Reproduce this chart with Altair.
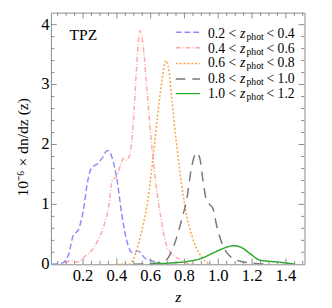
import altair as alt
import pandas as pd

# ---- data ----
series = ["0.2-0.4", "0.4-0.6", "0.6-0.8", "0.8-1.0", "1.0-1.2"]
lo_labels = ["0.2", "0.4", "0.6", "0.8", "1.0"]
hi_labels = ["0.4", "0.6", "0.8", "1.0", "1.2"]

z1 = [0.018, 0.076, 0.114, 0.143, 0.171, 0.2, 0.229, 0.248, 0.286, 0.315, 0.344, 0.372, 0.401, 0.43, 0.459, 0.488, 0.526, 0.564, 0.612, 0.67, 0.708]
y1 = [0, 0.02, 0.16, 0.49, 0.57, 0.87, 1.41, 1.6, 1.68, 1.78, 1.9, 1.78, 1.41, 0.82, 0.39, 0.2, 0.22, 0.11, 0.05, 0.01, 0]

z2 = [0.095, 0.124, 0.17, 0.21, 0.248, 0.286, 0.325, 0.353, 0.372, 0.401, 0.42, 0.44, 0.459, 0.478, 0.497, 0.516, 0.535, 0.555, 0.574, 0.603, 0.632, 0.66, 0.689, 0.727, 0.775, 0.823, 0.86]
y2 = [0.02, 0.06, 0.04, 0.13, 0.22, 0.39, 0.66, 0.98, 1.39, 1.48, 1.64, 1.77, 1.74, 1.85, 2.33, 3.25, 3.9, 3.67, 3.05, 2.08, 1.32, 0.78, 0.36, 0.17, 0.08, 0.01, 0]

z3 = [0.401, 0.468, 0.497, 0.526, 0.555, 0.584, 0.612, 0.641, 0.67, 0.689, 0.708, 0.727, 0.756, 0.785, 0.813, 0.842, 0.88, 0.919, 0.957]
y3 = [0, 0, 0.08, 0.32, 0.65, 1.08, 1.73, 2.48, 3.13, 3.4, 3.24, 2.7, 1.94, 1.3, 0.81, 0.49, 0.22, 0.06, 0]

z4 = [0.5, 0.67, 0.708, 0.746, 0.785, 0.813, 0.842, 0.871, 0.89, 0.909, 0.929, 0.948, 0.967, 0.995, 1.034, 1.072, 1.13, 1.207, 1.283]
y4 = [0, 0.03, 0.13, 0.38, 0.76, 1.08, 1.62, 1.86, 1.78, 1.41, 1.08, 1.0, 0.94, 0.59, 0.27, 0.13, 0.05, 0.02, 0]

z5 = [0.593, 0.708, 0.823, 0.9, 0.977, 1.034, 1.091, 1.13, 1.187, 1.245, 1.302, 1.379, 1.456]
y5 = [0, 0.02, 0.05, 0.1, 0.2, 0.27, 0.31, 0.29, 0.18, 0.07, 0.05, 0.03, 0]

x_major = [0.2, 0.4, 0.6, 0.8, 1.0, 1.2, 1.4]
x_major_labels = ["0.2", "0.4", "0.6", "0.8", "1.0", "1.2", "1.4"]
x_minor = [round(0.05 * i, 2) for i in range(1, 31) if i % 4 != 0]
y_major = [0, 1, 2, 3, 4]
y_major_labels = ["0", "1", "2", "3", "4"]
y_minor = [round(0.2 * i, 1) for i in range(1, 21) if i % 5 != 0]

# ---- styling ----
colors = ["#8c8cff", "#ffa8a8", "#ffa040", "#777777", "#2aa82a"]
dashes = [[6, 3], [5, 2, 1, 2], [2, 2], [10, 7], [1, 0]]
W, H = 260, 258
FONT = "Liberation Serif"
FRAME = "#8a8a8a"

rows = []
for s, zs, ys in zip(series, [z1, z2, z3, z4, z5], [y1, y2, y3, y4, y5]):
    for z, y in zip(zs, ys):
        rows.append({"series": s, "z": z, "y": y})
df = pd.DataFrame(rows)

xs = alt.Scale(domain=[0.01, 1.51], nice=False, zero=False)
ys_ = alt.Scale(domain=[0, 4.2], nice=False)

lines = alt.Chart(df).mark_line(interpolate="monotone", strokeWidth=1.5, clip=True).encode(
    x=alt.X("z:Q", scale=xs, axis=None),
    y=alt.Y("y:Q", scale=ys_, axis=None),
    color=alt.Color("series:N", scale=alt.Scale(domain=series, range=colors), legend=None),
    strokeDash=alt.StrokeDash("series:N", scale=alt.Scale(domain=series, range=dashes), legend=None),
    order=alt.Order("z:Q"),
)

layers = [lines]


def xticks(vals, length, top):
    d = pd.DataFrame({"t": vals})
    if top:
        yy, yy2 = 0, length
    else:
        yy, yy2 = H, H - length
    return alt.Chart(d).mark_rule(color=FRAME, strokeWidth=1).encode(
        x=alt.X("t:Q", scale=xs, axis=None), y=alt.value(yy), y2=alt.value(yy2))


def yticks(vals, length, right):
    d = pd.DataFrame({"t": vals})
    if right:
        xx, xx2 = W, W - length
    else:
        xx, xx2 = 0, length
    return alt.Chart(d).mark_rule(color=FRAME, strokeWidth=1).encode(
        y=alt.Y("t:Q", scale=ys_, axis=None), x=alt.value(xx), x2=alt.value(xx2))


for top in (False, True):
    layers.append(xticks(x_major, 6, top))
    layers.append(xticks(x_minor, 3.5, top))
for right in (False, True):
    layers.append(yticks(y_major[1:], 6, right))
    layers.append(yticks(y_minor, 3.5, right))

# tick labels drawn as text through the scales
layers.append(alt.Chart(pd.DataFrame({"t": x_major, "lab": x_major_labels})).mark_text(
    font=FONT, fontSize=17, align="center", baseline="middle", color="black").encode(
    x=alt.X("t:Q", scale=xs, axis=None), y=alt.value(H + 12.5), text="lab:N"))
layers.append(alt.Chart(pd.DataFrame({"t": y_major, "lab": y_major_labels})).mark_text(
    font=FONT, fontSize=17, align="right", baseline="middle", color="black").encode(
    y=alt.Y("t:Q", scale=ys_, axis=None), x=alt.value(-1.5), text="lab:N"))

one = pd.DataFrame({"a": [0]})

# legend
line_y = [20, 36, 52, 68, 83]
text_y = [22, 37, 52, 67.7, 83.5]
for i in range(5):
    layers.append(alt.Chart(one).mark_rule(color=colors[i], strokeDash=dashes[i], strokeWidth=1.5).encode(
        x=alt.value(128), x2=alt.value(153), y=alt.value(line_y[i])))
    ty = text_y[i]
    layers.append(alt.Chart(one).mark_text(text=f"{lo_labels[i]} <", font=FONT, fontSize=14, align="left",
                                           baseline="middle", color="black").encode(
        x=alt.value(161), y=alt.value(ty)))
    layers.append(alt.Chart(one).mark_text(text="z", font=FONT, fontSize=14, fontStyle="italic", align="left",
                                           baseline="middle", color="black").encode(
        x=alt.value(194), y=alt.value(ty)))
    layers.append(alt.Chart(one).mark_text(text="phot", font=FONT, fontSize=10, align="left",
                                           baseline="middle", color="black").encode(
        x=alt.value(200.5), y=alt.value(ty + 3)))
    layers.append(alt.Chart(one).mark_text(text=f"< {hi_labels[i]}", font=FONT, fontSize=14, align="left",
                                           baseline="middle", color="black").encode(
        x=alt.value(221), y=alt.value(ty)))

# TPZ label
layers.append(alt.Chart(one).mark_text(text="TPZ", font=FONT, fontSize=16, align="left",
                                       baseline="middle", color="black").encode(
    x=alt.value(19), y=alt.value(23)))

# axis titles
layers.append(alt.Chart(one).mark_text(text="10⁻⁶ × dn/dz (z)", font=FONT, fontSize=16, angle=270,
                                       align="center", baseline="middle", color="black").encode(
    x=alt.value(-29), y=alt.value(138)))
layers.append(alt.Chart(one).mark_text(text="z", font=FONT, fontSize=16, fontStyle="italic",
                                       align="center", baseline="middle", color="black").encode(
    x=alt.value(130.5), y=alt.value(292)))

chart = alt.layer(*layers).properties(
    width=W, height=H,
    autosize=alt.AutoSizeParams(type="none"),
    padding={"left": 44, "top": 1, "right": 20, "bottom": 41},
).configure_view(stroke=FRAME, strokeWidth=1)

chart.save("out.html", embed_options={"renderer": "svg", "actions": False})
